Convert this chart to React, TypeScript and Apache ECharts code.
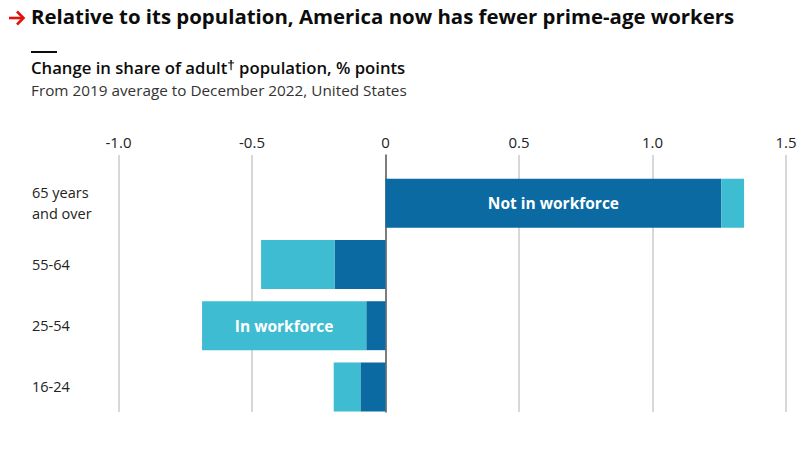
import React, { useEffect, useRef } from "react";
import * as echarts from "echarts";

const categories = ["65 years\nand over", "55-64", "25-54", "16-24"];
const notInWorkforce = [1.258, -0.191, -0.072, -0.094];
const inWorkforce = [0.085, -0.275, -0.615, -0.1];
const xTicks = [-1.0, -0.5, 0, 0.5, 1.0, 1.5];

const DARK = "#0a6aa1";
const LIGHT = "#3ebcd2";
const FONT = "'Open Sans', 'Noto Sans', sans-serif";

export default function App() {
  const ref = useRef<HTMLDivElement>(null);
  useEffect(() => {
    if (!ref.current) return;
    const chart = echarts.init(ref.current, null, { renderer: "svg" });
    const fmt = (v: number) => (v === 0 ? "0" : v.toFixed(1));
    const left = 118.5;
    const right = 18;
    const barLabel = (text: string) => ({
      show: true,
      position: "inside",
      formatter: text,
      color: "#fff",
      fontSize: 15.5,
      fontWeight: "bold",
      fontFamily: FONT,
    });
    const option: any = {
      animation: false,
      textStyle: { fontFamily: FONT },
      grid: [
        { left, right, top: 172.7, bottom: 33.5, containLabel: false },
        { left, right, top: 155, bottom: 39, containLabel: false },
      ],
      xAxis: [
        {
          gridIndex: 0,
          type: "value",
          min: xTicks[0],
          max: xTicks[xTicks.length - 1],
          interval: 0.5,
          show: false,
        },
        {
          gridIndex: 1,
          type: "value",
          position: "top",
          min: xTicks[0],
          max: xTicks[xTicks.length - 1],
          interval: 0.5,
          axisLine: { show: false },
          axisTick: { show: false },
          axisLabel: {
            formatter: fmt,
            fontSize: 15,
            color: "#222",
            margin: 6,
            fontFamily: FONT,
          },
          splitLine: { show: true, lineStyle: { color: "#cfcfcf", width: 1.6 } },
        },
      ],
      yAxis: [
        {
          gridIndex: 0,
          type: "category",
          data: categories,
          inverse: true,
          axisLine: { show: false },
          axisTick: { show: false },
          axisLabel: {
            align: "left",
            margin: left - 32,
            fontSize: 14.5,
            lineHeight: 21,
            color: "#222",
            fontFamily: FONT,
          },
          splitLine: { show: false },
        },
        {
          gridIndex: 1,
          type: "value",
          min: 0,
          max: 1,
          axisLine: { show: true, onZero: true, lineStyle: { color: "#666", width: 1.6 } },
          axisTick: { show: false },
          axisLabel: { show: false },
          splitLine: { show: false },
        },
      ],
      series: [
        {
          name: "Not in workforce",
          type: "bar",
          stack: "total",
          xAxisIndex: 0,
          yAxisIndex: 0,
          barWidth: "80%",
          itemStyle: { color: DARK },
          data: notInWorkforce.map((v, i) =>
            i === 0 ? { value: v, label: barLabel("Not in workforce") } : v
          ),
        },
        {
          name: "In workforce",
          type: "bar",
          stack: "total",
          xAxisIndex: 0,
          yAxisIndex: 0,
          barWidth: "80%",
          itemStyle: { color: LIGHT },
          data: inWorkforce.map((v, i) =>
            i === 2 ? { value: v, label: barLabel("In workforce") } : v
          ),
        },
      ],
      graphic: [
        {
          type: "polyline",
          shape: { points: [[9, 18], [23, 18]] },
          style: { stroke: "#e3120b", lineWidth: 2.6, fill: null },
        },
        {
          type: "polyline",
          shape: { points: [[17, 11.5], [23.5, 18], [17, 24.5]] },
          style: { stroke: "#e3120b", lineWidth: 2.6, fill: null },
        },
        {
          type: "text",
          left: 31,
          top: 5.5,
          style: {
            text: "Relative to its population, America now has fewer prime-age workers",
            fill: "#0c0c0c",
            font: `bold 20.4px ${FONT}`,
          },
        },
        {
          type: "rect",
          shape: { x: 31, y: 51, width: 26, height: 2 },
          style: { fill: "#0c0c0c" },
        },
        {
          type: "text",
          left: 31,
          top: 57,
          style: {
            text: "Change in share of adult{sup|†} population, % points",
            fill: "#0c0c0c",
            font: `600 16.7px ${FONT}`,
            rich: {
              sup: { fontSize: 13.5, fontWeight: 600, padding: [0, 0, 7, 0], fill: "#0c0c0c" },
            },
          },
        },
        {
          type: "text",
          left: 31,
          top: 82,
          style: {
            text: "From 2019 average to December 2022, United States",
            fill: "#333",
            font: `15.3px ${FONT}`,
          },
        },
      ],
    };
    chart.setOption(option);
    return () => chart.dispose();
  }, []);
  return (
    <div
      ref={ref}
      style={{ position: "fixed", left: 0, top: 0, width: 804, height: 451, background: "#fff" }}
    />
  );
}
